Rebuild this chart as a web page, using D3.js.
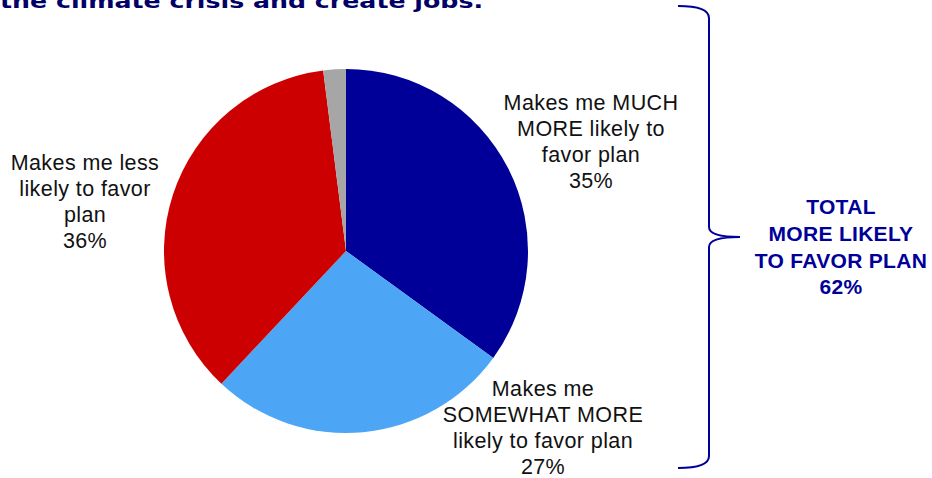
<!DOCTYPE html>
<html><head><meta charset="utf-8">
<script src="https://cdn.jsdelivr.net/npm/d3@7"></script>
<style>body{margin:0;background:#fff}svg{display:block}</style>
</head><body>
<svg id="c" width="932" height="478"></svg>
<script>
const categories = ["Makes me MUCH MORE likely to favor plan","Makes me SOMEWHAT MORE likely to favor plan","Makes me less likely to favor plan","Don't know"];
const values = [35, 27, 36, 2];
const colors = ["#000099", "#4DA6F5", "#CC0000", "#A6A6A6"];
const labelLines = [
  ["Makes me MUCH","MORE likely to","favor plan","35%"],
  ["Makes me","SOMEWHAT MORE","likely to favor plan","27%"],
  ["Makes me less","likely to favor","plan","36%"],
  null
];
const titleText = "the climate crisis and create jobs.";
const totalLines = ["TOTAL","MORE LIKELY","TO FAVOR PLAN","62%"];

const svg = d3.select("#c");
const cx = 346, cy = 251, r = 182;
const pie = d3.pie().sort(null).value(d => d);
const arc = d3.arc().innerRadius(0).outerRadius(r);
const g = svg.append("g").attr("transform", `translate(${cx},${cy})`);
g.selectAll("path").data(pie(values)).join("path")
  .attr("d", arc).attr("fill", (d,i) => colors[i]);

// title (clipped at top, as in the source)
const t = svg.append("text").attr("x", 0).attr("y", 8)
  .attr("font-family", "DejaVu Sans").attr("font-weight", "bold")
  .attr("font-size", 20).attr("fill", "#000066").text(titleText);
t.attr("textLength", 483).attr("lengthAdjust", "spacingAndGlyphs");

// labels
const labelPos = [[591, 110], [543, 396], [85, 170]];
labelLines.forEach((lines, i) => {
  if (!lines) return;
  const tx = svg.append("text").attr("text-anchor", "middle")
    .attr("font-family", "Liberation Sans, Arial, sans-serif")
    .attr("font-size", 21.5).attr("letter-spacing", 0.4).attr("fill", "#111");
  lines.forEach((l, j) => tx.append("tspan").attr("x", labelPos[i][0])
    .attr("y", labelPos[i][1] + j * 26).text(l));
});

// brace
const bTop = 6, bBot = 468, bMid = 237;
const brace = `M678,${bTop} Q709,${bTop} 709,${bTop+12} L709,${bMid-10} Q709,${bMid} 740,${bMid} Q709,${bMid} 709,${bMid+10} L709,${bBot-12} Q709,${bBot} 678,${bBot}`;
svg.append("path").attr("d", brace).attr("fill", "none")
  .attr("stroke", "#000099").attr("stroke-width", 2);

const tt = svg.append("text").attr("text-anchor", "middle")
  .attr("font-family", "Liberation Sans, Arial, sans-serif")
  .attr("font-weight", "bold").attr("font-size", 21).attr("letter-spacing", 0.3).attr("fill", "#000099");
totalLines.forEach((l, j) => tt.append("tspan").attr("x", 841)
  .attr("y", 214 + j * 26.8).text(l));
</script>
</body></html>
